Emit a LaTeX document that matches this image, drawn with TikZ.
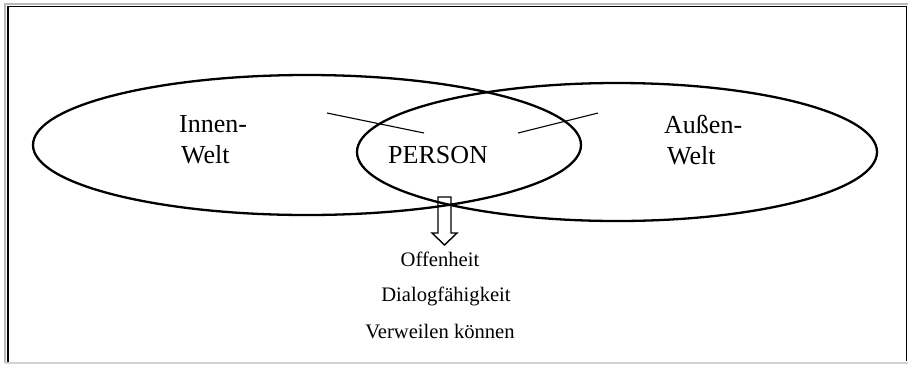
\documentclass[tikz,border=0pt]{standalone}
\usepackage{fontspec}
\setmainfont{Liberation Serif}
\begin{document}
\begin{tikzpicture}[x=1pt,y=-1pt,
  bigtext/.style={inner sep=0pt, anchor=base west, font=\fontsize{26}{31}\selectfont},
  smalltext/.style={inner sep=0pt, anchor=base, font=\fontsize{20.6}{25}\selectfont},
  oval/.style={line width=2.3pt},
  thin/.style={line width=1.1pt}]
\useasboundingbox (0,0) rectangle (912,365);
% frame
\draw[gray!55, line width=1.2pt] (5,363) -- (5,4) -- (907.5,4);
\draw[gray!35, line width=1.2pt] (5,363) -- (907.5,363);
\draw[black, line width=1.8pt] (8,362) -- (8,6.5) -- (906.5,6.5) -- (906.5,361);
% ellipses
\draw[oval] (307,145) ellipse [x radius=274, y radius=70];
\draw[oval] (617,152) ellipse [x radius=260, y radius=69];
% texts
\node[bigtext] (innen1) at (179,132) {Innen-};
\node[bigtext] (innen2) at (181,163) {Welt};
\node[bigtext] (aussen1) at (664,133) {Außen-};
\node[bigtext] (aussen2) at (667,164) {Welt};
\node[bigtext] (person) at (388,163) {PERSON};
% connector lines
\coordinate (l1a) at (327,113);
\coordinate (l1b) at (424,133);
\coordinate (l2a) at (518,133);
\coordinate (l2b) at (598,113);
\draw[thin] (l1a) -- (l1b);
\draw[thin] (l2a) -- (l2b);
% hollow arrow
\draw[line width=1.4pt, line join=miter] (438,197) -- (451,197) -- (451,233) -- (457,233) -- (444.5,245) -- (432,233) -- (438,233) -- cycle;
% bottom texts
\node[smalltext] (off) at (440,266) {Offenheit};
\node[smalltext] (dia) at (446,301) {Dialogfähigkeit};
\node[smalltext] (ver) at (440,338) {Verweilen können};
\end{tikzpicture}
\end{document}
